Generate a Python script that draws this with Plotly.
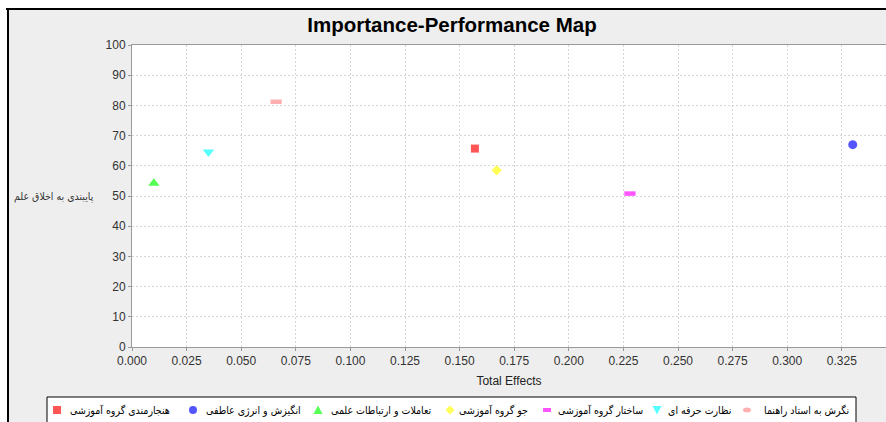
import plotly.graph_objects as go

# Data
series_names = [
    "هنجارمندی گروه آموزشی",
    "انگیزش و انرژی عاطفی",
    "تعاملات و ارتباطات علمی",
    "جو گروه آموزشی",
    "ساختار گروه آموزشی",
    "نظارت حرفه ای",
    "نگرش به استاد راهنما",
]
total_effects = [0.157, 0.330, 0.010, 0.167, 0.228, 0.035, 0.066]
performance = [65.7, 67.0, 54.2, 58.5, 50.8, 64.6, 81.2]

x_tickvals = [i * 0.025 for i in range(14)]
x_ticktext = [f"{v:.3f}" for v in x_tickvals]
y_tickvals = list(range(0, 101, 10))

# Styles
colors = ["#FF5555", "#5555FF", "#55FF55", "#FFFF55", "#FF55FF", "#55FFFF", "#FFAFAF"]
symbols = ["square", "circle", "triangle-up", "diamond", "line-ew", "triangle-down", "line-ew"]
sizes = [8, 9, 10, 8, 8, 10, 8]

W, H = 886, 422
L, R, T, B = 132, 0, 45, 422 - 347
pw, ph = W - L - R, H - T - B


def px_x(p):  # window pixel -> paper fraction
    return (p - L) / pw


def px_y(p):
    return (H - B - p) / ph


fig = go.Figure()
for i, name in enumerate(series_names):
    sym = symbols[i]
    if sym == "line-ew":
        marker = dict(symbol=sym, size=sizes[i], color=colors[i],
                      line=dict(color=colors[i], width=4.5))
    else:
        marker = dict(symbol=sym, size=sizes[i], color=colors[i], line=dict(width=0))
    fig.add_trace(go.Scatter(x=[total_effects[i]], y=[performance[i]], mode="markers",
                             name=name, marker=marker, showlegend=False))

shapes = [
    # white page area outside the chart's outer border
    dict(type="rect", xref="paper", yref="paper", x0=px_x(-5), x1=px_x(W + 5), y0=px_y(8), y1=px_y(-5),
         fillcolor="white", line=dict(width=0), layer="above"),
    dict(type="rect", xref="paper", yref="paper", x0=px_x(-5), x1=px_x(7), y0=px_y(H + 5), y1=px_y(-5),
         fillcolor="white", line=dict(width=0), layer="above"),
    # outer chart border (top and left edges)
    dict(type="line", xref="paper", yref="paper", x0=px_x(6), x1=px_x(W + 20), y0=px_y(9), y1=px_y(9),
         line=dict(color="black", width=2), layer="above"),
    dict(type="line", xref="paper", yref="paper", x0=px_x(8), x1=px_x(8), y0=px_y(8), y1=px_y(H + 20),
         line=dict(color="black", width=2), layer="above"),
    # legend box
    dict(type="rect", xref="paper", yref="paper", x0=px_x(47), x1=px_x(856), y0=px_y(H + 20), y1=px_y(397),
         fillcolor="white", line=dict(color="black", width=1), layer="above"),
]

# Legend (manual, single row like the reference)
leg_y = 410
marker_cx = [57, 193, 318, 450, 547, 657, 747]
text_cx = [120, 253, 381, 493, 600, 699, 806]
annotations = []


def mshape(kind, cx, cy):
    if kind == "square":
        return dict(type="rect", x0=px_x(cx - 4), x1=px_x(cx + 4), y0=px_y(cy + 4), y1=px_y(cy - 4))
    if kind == "circle":
        return dict(type="circle", x0=px_x(cx - 4), x1=px_x(cx + 4), y0=px_y(cy + 4), y1=px_y(cy - 4))
    if kind == "ellipse":
        return dict(type="circle", x0=px_x(cx - 4), x1=px_x(cx + 4), y0=px_y(cy + 2.5), y1=px_y(cy - 2.5))
    if kind == "bar":
        return dict(type="rect", x0=px_x(cx - 4), x1=px_x(cx + 4), y0=px_y(cy + 2), y1=px_y(cy - 2))
    if kind == "triangle-up":
        pts = [(cx, cy - 4.5), (cx + 4.5, cy + 4), (cx - 4.5, cy + 4)]
    elif kind == "triangle-down":
        pts = [(cx, cy + 4.5), (cx + 4.5, cy - 4), (cx - 4.5, cy - 4)]
    else:  # diamond
        pts = [(cx, cy - 4.5), (cx + 4.5, cy), (cx, cy + 4.5), (cx - 4.5, cy)]
    path = "M " + " L ".join(f"{px_x(x)},{px_y(y)}" for x, y in pts) + " Z"
    return dict(type="path", path=path)


legend_kinds = ["square", "circle", "triangle-up", "diamond", "bar", "triangle-down", "ellipse"]
fa_font = "DejaVu Sans Condensed, DejaVu Sans, Noto Sans"
for i, name in enumerate(series_names):
    s = mshape(legend_kinds[i], marker_cx[i], leg_y)
    s.update(xref="paper", yref="paper", fillcolor=colors[i], line=dict(width=0), layer="above")
    shapes.append(s)
    annotations.append(dict(text=name, xref="paper", yref="paper", x=px_x(text_cx[i]), y=px_y(leg_y),
                            xanchor="center", yanchor="middle", showarrow=False,
                            font=dict(family=fa_font, size=10.5, color="black")))

annotations.append(dict(text="پایبندی به اخلاق علم", xref="paper", yref="paper", x=px_x(96), y=px_y(196),
                        xanchor="right", yanchor="middle", showarrow=False,
                        font=dict(family=fa_font, size=10.5, color="#333333")))

fig.update_layout(
    width=W, height=H,
    margin=dict(l=L, r=R, t=T, b=B, pad=0),
    paper_bgcolor="#EEEEEE",
    plot_bgcolor="white",
    showlegend=False,
    shapes=shapes,
    annotations=annotations,
    hovermode=False,
    title=dict(text="<b>Importance-Performance Map</b>", x=452 / W, xanchor="center",
               y=1 - 25 / H, yanchor="middle",
               font=dict(family="Liberation Sans, Arial", size=20.5, color="black")),
    xaxis=dict(range=[0, 0.025 * pw / 54.6], tickvals=x_tickvals, ticktext=x_ticktext,
               showgrid=True, gridcolor="#D6D6D6", griddash="2px,2px", gridwidth=1,
               showline=True, linecolor="#999999", linewidth=1, mirror=True,
               ticks="outside", ticklen=3, tickcolor="#999999", zeroline=False, automargin=False,
               tickfont=dict(family="Liberation Sans, Arial", size=12, color="#333333"),
               title=dict(text="Total Effects", standoff=9,
                          font=dict(family="Liberation Sans, Arial", size=12, color="#222222"))),
    yaxis=dict(range=[0, 100], tickvals=y_tickvals,
               showgrid=True, gridcolor="#D6D6D6", griddash="2px,2px", gridwidth=1,
               showline=True, linecolor="#999999", linewidth=1, automargin=False,
               ticks="outside", ticklen=3, tickcolor="#999999", zeroline=False,
               tickfont=dict(family="Liberation Sans, Arial", size=12, color="#333333")),
)

fig.write_html(
    "out.html",
    config={"displayModeBar": False},
    post_script="document.body.style.margin='0';document.documentElement.style.overflow='hidden';",
)
